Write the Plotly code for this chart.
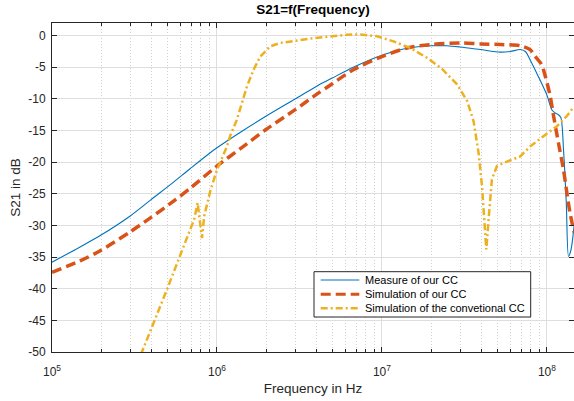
import plotly.graph_objects as go

# ---- data ----
f_meas = [1.0e5, 1.48e5, 1.96e5, 2.98e5, 3.95e5, 5.43e5, 6.89e5, 9.9e5, 1.38e6, 1.99e6,
          2.98e6, 3.95e6, 5.0e6, 6.7e6, 1.0e7, 1.42e7, 1.99e7, 2.48e7, 2.98e7, 3.95e7,
          5.21e7, 6.0e7, 6.89e7, 7.4e7, 7.9e7, 8.85e7, 1.0e8, 1.07e8, 1.12e8, 1.175e8,
          1.216e8, 1.26e8, 1.31e8, 1.352e8, 1.40e8, 1.46e8]
s_meas = [-35.8, -33.4, -31.6, -28.5, -26.0, -23.2, -21.0, -17.8, -15.3, -12.7,
          -10.0, -8.1, -6.7, -5.0, -3.1, -2.0, -1.6, -1.6, -1.8, -2.2,
          -2.6, -2.5, -2.2, -2.5, -3.8, -6.4, -9.4, -11.7, -12.2, -12.5,
          -13.0, -18.0, -26.4, -34.9, -33.8, -30.1]

f_sim = [1.0e5, 1.48e5, 1.96e5, 2.98e5, 3.95e5, 5.43e5, 6.89e5, 9.9e5, 1.38e6, 1.99e6,
         2.98e6, 3.95e6, 5.0e6, 6.7e6, 1.0e7, 1.42e7, 1.99e7, 2.98e7, 3.95e7, 5.21e7,
         6.89e7, 7.9e7, 8.5e7, 9.25e7, 9.77e7, 1.047e8, 1.097e8, 1.175e8, 1.26e8, 1.32e8,
         1.38e8, 1.46e8]
s_sim = [-37.4, -35.6, -34.0, -31.0, -28.8, -26.2, -24.1, -20.7, -17.9, -14.8,
         -11.7, -9.4, -7.6, -5.4, -3.3, -1.95, -1.4, -1.15, -1.3, -1.4,
         -1.6, -2.2, -3.3, -4.5, -6.4, -9.6, -12.7, -17.0, -21.2, -24.8,
         -28.0, -31.1]

f_conv = [3.2e5, 3.51e5, 4.98e5, 6.28e5, 7.28e5, 7.63e5, 8.11e5, 8.37e5, 9.1e5, 1.0e6,
          1.15e6, 1.2e6, 1.32e6, 1.52e6, 1.68e6, 1.83e6, 2.1e6, 2.42e6, 3.0e6, 3.85e6,
          5.0e6, 6.14e6, 7.39e6, 9.33e6, 1.175e7, 1.485e7, 1.875e7, 2.3e7, 2.85e7, 3.28e7,
          3.59e7, 3.85e7, 4.04e7, 4.17e7, 4.29e7, 4.43e7, 4.64e7, 4.98e7, 5.72e7, 6.89e7,
          7.92e7, 9.53e7, 1.15e8, 1.32e8, 1.46e8]
s_conv = [-52.6, -50.0, -40.1, -33.3, -29.0, -26.4, -32.0, -28.5, -24.6, -21.2,
          -17.5, -15.9, -13.3, -8.0, -5.2, -3.3, -1.7, -1.15, -0.75, -0.4,
          -0.1, 0.15, 0.2, -0.1, -0.9, -1.95, -3.5, -5.2, -7.7, -10.3,
          -13.5, -18.5, -23.8, -29.0, -33.8, -29.0, -22.7, -20.6, -19.9, -19.1,
          -17.5, -15.9, -14.3, -12.7, -11.2]

x_major = [1e5, 1e6, 1e7, 1e8]
x_major_text = ["10<sup>5</sup>", "10<sup>6</sup>", "10<sup>7</sup>", "10<sup>8</sup>"]
x_minor = [m * 10 ** e for e in (5, 6, 7) for m in range(2, 10)] + [2e8]
y_ticks = list(range(-50, 1, 5))
y_text = [str(v) for v in y_ticks]

names = ["Measure of our CC", "Simulation of our CC", "Simulation of the convetional CC"]
colors = ["#0072BD", "#D95319", "#EDB120"]
widths = [1.1, 3.5, 2.5]
dashes = ["solid", "10px,5px", "7px,3px,2px,3px"]

# ---- figure ----
AX = "#262626"
FONT = "Liberation Sans, Arial, Helvetica, sans-serif"
W, H = 574, 401
ML, MR, MT, MB = 52, 0, 23, 49
PW, PH = W - ML - MR, H - MT - MB


def px_x(p):
    return (p - ML) / PW


def px_y(p):
    return (H - MB - p) / PH


fig = go.Figure()
fig.add_trace(go.Scatter(x=f_meas, y=s_meas, mode="lines", name=names[0],
                         line=dict(color=colors[0], width=widths[0], dash=dashes[0],
                                   shape="spline", smoothing=0.8)))
fig.add_trace(go.Scatter(x=f_sim, y=s_sim, mode="lines", name=names[1],
                         line=dict(color=colors[1], width=widths[1], dash=dashes[1],
                                   shape="spline", smoothing=0.8)))
fig.add_trace(go.Scatter(x=f_conv, y=s_conv, mode="lines", name=names[2],
                         line=dict(color=colors[2], width=widths[2], dash=dashes[2])))

# legend box (MATLAB style, compact rows)
shapes = [dict(type="rect", xref="paper", yref="paper", layer="above",
               x0=px_x(314), x1=px_x(530.7), y0=px_y(317), y1=px_y(271.7),
               line=dict(color=AX, width=1), fillcolor="white")]
annotations = []
rows = [280, 294.3, 308.3]
for i, name in enumerate(names):
    shapes.append(dict(type="line", xref="paper", yref="paper", layer="above",
                       x0=px_x(320.7), x1=px_x(359.3), y0=px_y(rows[i]), y1=px_y(rows[i]),
                       line=dict(color=colors[i], width=min(widths[i], 3), dash=dashes[i])))
    annotations.append(dict(text=name, xref="paper", yref="paper", x=px_x(363.3),
                            y=px_y(rows[i]), xanchor="left", yanchor="middle",
                            showarrow=False, font=dict(size=11, color="black", family=FONT)))

fig.update_layout(
    width=W, height=H,
    margin=dict(l=ML, r=MR, t=MT, b=MB),
    paper_bgcolor="white", plot_bgcolor="white",
    font=dict(family=FONT, size=12, color=AX),
    showlegend=False,
    shapes=shapes, annotations=annotations,
    title=dict(text="<b>S21=f(Frequency)</b>", x=0.5, xref="paper", xanchor="center",
               y=1 - 5 / H, yref="container", yanchor="top",
               font=dict(size=13.5, color="black", family=FONT)),
)

fig.update_xaxes(
    type="log", range=[5, 8.164], automargin=False,
    tickmode="array", tickvals=x_major, ticktext=x_major_text,
    ticks="inside", ticklen=5, tickcolor=AX, tickwidth=1,
    showline=True, linecolor=AX, linewidth=1, mirror="ticks",
    showgrid=True, gridcolor="#dedede", gridwidth=1,
    zeroline=False,
    tickfont=dict(size=12, color=AX),
    ticklabelstandoff=9,
    title=dict(text="Frequency in Hz", font=dict(size=13.5, color=AX), standoff=5),
    minor=dict(tickmode="array", tickvals=x_minor, ticks="inside", ticklen=3,
               tickcolor=AX, showgrid=True, gridcolor="#d0d0d0", griddash="1px,2px",
               gridwidth=1),
)

fig.update_yaxes(
    range=[-50, 2], automargin=False,
    tickmode="array", tickvals=y_ticks, ticktext=y_text,
    ticks="inside", ticklen=5, tickcolor=AX, tickwidth=1,
    showline=True, linecolor=AX, linewidth=1, mirror="ticks",
    showgrid=True, gridcolor="#dedede", gridwidth=1,
    zeroline=False,
    tickfont=dict(size=12, color=AX),
    ticklabelstandoff=3,
    title=dict(text="S21 in dB", font=dict(size=13.5, color=AX), standoff=4),
)

fig.write_html("out.html", config={"displayModeBar": False},
               post_script="document.body.style.margin='0';")
